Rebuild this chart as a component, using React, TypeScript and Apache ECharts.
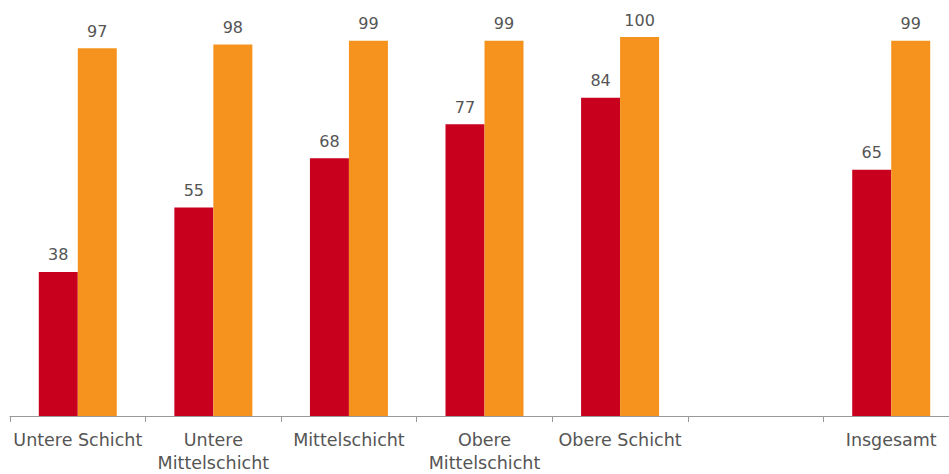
import React, { useEffect, useRef } from "react";
import * as echarts from "echarts";

const categories = ["Untere Schicht", "Untere\nMittelschicht", "Mittelschicht", "Obere\nMittelschicht", "Obere Schicht", "", "Insgesamt"];
const seriesA = [38, 55, 68, 77, 84, null, 65];
const seriesB = [97, 98, 99, 99, 100, null, 99];

export default function App() {
  const ref = useRef<HTMLDivElement>(null);
  useEffect(() => {
    const chart = echarts.init(ref.current!, undefined, { renderer: "svg" });
    const labelStyle = {
      show: true,
      position: "top" as const,
      distance: 9,
      color: "#555555",
      fontSize: 16,
      fontFamily: "DejaVu Sans",
    };
    chart.setOption({
      animation: false,
      grid: { left: 10, right: 0, top: 37, bottom: 56, containLabel: false },
      xAxis: {
        type: "category",
        data: categories,
        axisLine: { lineStyle: { color: "#999999", width: 1 } },
        axisTick: { show: true, length: 6, lineStyle: { color: "#999999" } },
        axisLabel: {
          color: "#555555",
          fontSize: 17.5,
          fontFamily: "DejaVu Sans",
          lineHeight: 23,
          margin: 12,
          interval: 0,
        },
      },
      yAxis: {
        type: "value",
        min: 0,
        max: 100,
        show: false,
        splitLine: { show: false },
      },
      series: [
        {
          type: "bar",
          data: seriesA,
          barWidth: 39,
          barGap: "0%",
          itemStyle: { color: "#C8001E" },
          label: labelStyle,
        },
        {
          type: "bar",
          data: seriesB,
          barWidth: 39,
          barGap: "0%",
          itemStyle: { color: "#F5931E" },
          label: labelStyle,
        },
      ],
    });
    return () => chart.dispose();
  }, []);
  return (
    <div style={{ position: "absolute", left: 0, top: 0, width: 949, height: 474, overflow: "hidden" }}>
      <div ref={ref} style={{ width: 958.5, height: 474 }} />
    </div>
  );
}
